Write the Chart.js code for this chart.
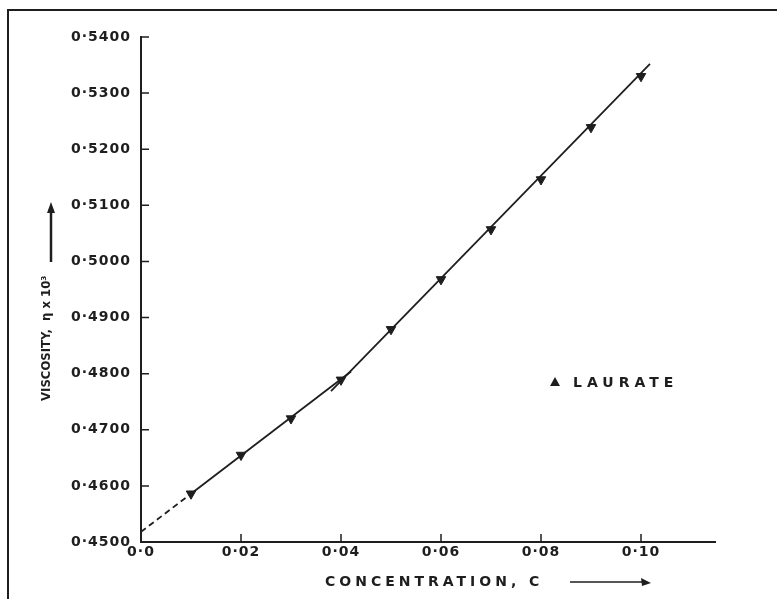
<!DOCTYPE html>
<html>
<head>
<meta charset="utf-8">
<script src="https://cdn.jsdelivr.net/npm/chart.js@4/dist/chart.umd.min.js"></script>
<style>
  body { margin: 0; background: #fff; }
  canvas { display: block; }
</style>
</head>
<body>
<canvas id="viscosity-plot" width="777" height="599"></canvas>
<script>
const ctxViscosity = document.getElementById('viscosity-plot').getContext('2d')

// measured points (laurate)
const concentration = [0.01, 0.02, 0.03, 0.04, 0.05, 0.06, 0.07, 0.08, 0.09, 0.10]
const viscosity = [0.4586, 0.4655, 0.4720, 0.4789, 0.4879, 0.4968, 0.5057, 0.5146, 0.5239, 0.5330]

// the two drawn fit lines (first piece of the low one is dashed)
const lowFitX = [0, 0.01, 0.042]
const lowFitY = [0.4518, 0.4586, 0.4804]
const highFitX = [0.038, 0.1018]
const highFitY = [0.4769, 0.5352]

const xTicks = [0, 0.02, 0.04, 0.06, 0.08, 0.10]
const xTickLabels = ['0·0', '0·02', '0·04', '0·06', '0·08', '0·10']
const yTicks = [0.45, 0.46, 0.47, 0.48, 0.49, 0.50, 0.51, 0.52, 0.53, 0.54]
const yTickLabels = ['0·4500', '0·4600', '0·4700', '0·4800', '0·4900', '0·5000', '0·5100', '0·5200', '0·5300', '0·5400']

const INK = '#1e1e1e'
const toPoints = (xs, ys) => xs.map((x, i) => ({ x: x, y: ys[i] }))

// ticks in the scan point into the plot, so draw them ourselves
const paperPlugin = {
  id: 'paper',
  beforeDraw(chart) {
    chart.ctx.letterSpacing = '1px'
  },
  afterDraw(chart) {
    const c = chart.ctx
    const xs = chart.scales.x
    const ys = chart.scales.y
    c.save()
    c.strokeStyle = INK
    c.fillStyle = INK
    c.lineWidth = 2

    // frame of the scanned page
    c.beginPath()
    c.moveTo(8, 599)
    c.lineTo(8, 10)
    c.lineTo(777, 10)
    c.stroke()

    // inward tick marks
    c.lineWidth = 1.5
    c.beginPath()
    yTicks.forEach(v => {
      const py = ys.getPixelForValue(v)
      c.moveTo(xs.left, py)
      c.lineTo(xs.left + 8, py)
    })
    xTicks.forEach(v => {
      if (v === 0) return
      const px = xs.getPixelForValue(v)
      c.moveTo(px, ys.bottom)
      c.lineTo(px, ys.bottom - 8)
    })
    c.stroke()

    // x title + arrow
    c.letterSpacing = '4px'
    c.font = 'bold 14px "DejaVu Sans"'
    c.textBaseline = 'middle'
    c.textAlign = 'left'
    c.fillText('CONCENTRATION, C', 325, 582)
    c.lineWidth = 1.5
    c.beginPath()
    c.moveTo(570, 582)
    c.lineTo(645, 582)
    c.stroke()
    c.beginPath()
    c.moveTo(651, 583)
    c.lineTo(641, 578)
    c.lineTo(642, 586)
    c.closePath()
    c.fill()

    // y title + arrow
    c.save()
    c.translate(47, 401)
    c.rotate(-Math.PI / 2)
    c.letterSpacing = '0px'
    c.font = 'bold 13px "Liberation Sans Narrow", "DejaVu Sans Condensed", sans-serif'
    c.textAlign = 'left'
    c.fillText('VISCOSITY,  η x 10³', 0, 0)
    c.restore()
    c.lineWidth = 2.5
    c.beginPath()
    c.moveTo(51, 262)
    c.lineTo(51, 210)
    c.stroke()
    c.beginPath()
    c.moveTo(51, 202)
    c.lineTo(47, 213)
    c.lineTo(55, 213)
    c.closePath()
    c.fill()

    // legend
    c.beginPath()
    c.moveTo(555, 377)
    c.lineTo(550, 386)
    c.lineTo(560, 386)
    c.closePath()
    c.fill()
    c.letterSpacing = '5px'
    c.font = 'bold 14px "DejaVu Sans"'
    c.fillText('LAURATE', 573, 383)
    c.restore()
  },
}

const dataViscosity = {
  datasets: [
    {
      label: 'LAURATE',
      data: toPoints(concentration, viscosity),
      showLine: false,
      pointStyle: 'triangle',
      rotation: 180,
      radius: 5.5,
      backgroundColor: INK,
      borderColor: INK,
      borderWidth: 1,
    },
    {
      label: 'fit low',
      data: toPoints(lowFitX, lowFitY),
      showLine: true,
      borderColor: INK,
      borderWidth: 1.8,
      radius: 0,
      segment: {
        borderDash: ctx => (ctx.p0DataIndex === 0 ? [6, 4] : undefined),
      },
    },
    {
      label: 'fit high',
      data: toPoints(highFitX, highFitY),
      showLine: true,
      borderColor: INK,
      borderWidth: 1.8,
      radius: 0,
    },
  ],
}

const configViscosity = {
  type: 'scatter',
  data: dataViscosity,
  options: {
    responsive: false,
    animation: false,
    layout: {
      padding: { left: 8, top: 37, right: 62, bottom: 0 },
    },
    plugins: {
      legend: { display: false },
      tooltip: { enabled: false },
    },
    scales: {
      x: {
        type: 'linear',
        min: 0,
        max: 0.1148,
        afterFit: scale => {
          scale.height = 57
        },
        afterBuildTicks: scale => {
          scale.ticks = xTicks.map(v => ({ value: v }))
        },
        grid: { display: false, drawTicks: false },
        border: { display: true, color: INK, width: 2 },
        ticks: {
          padding: 2,
          color: INK,
          font: { family: 'DejaVu Sans', size: 14, weight: 'bold' },
          callback: (value, index) => xTickLabels[index],
        },
      },
      y: {
        type: 'linear',
        min: 0.45,
        max: 0.54,
        afterFit: scale => {
          scale.width = 133
        },
        afterBuildTicks: scale => {
          scale.ticks = yTicks.map(v => ({ value: v }))
        },
        grid: { display: false, drawTicks: false },
        border: { display: true, color: INK, width: 2 },
        ticks: {
          padding: 10,
          color: INK,
          font: { family: 'DejaVu Sans', size: 14, weight: 'bold' },
          callback: (value, index) => yTickLabels[index],
        },
      },
    },
  },
  plugins: [paperPlugin],
}

const viscosityChart = new Chart(ctxViscosity, configViscosity)
</script>
</body>
</html>
